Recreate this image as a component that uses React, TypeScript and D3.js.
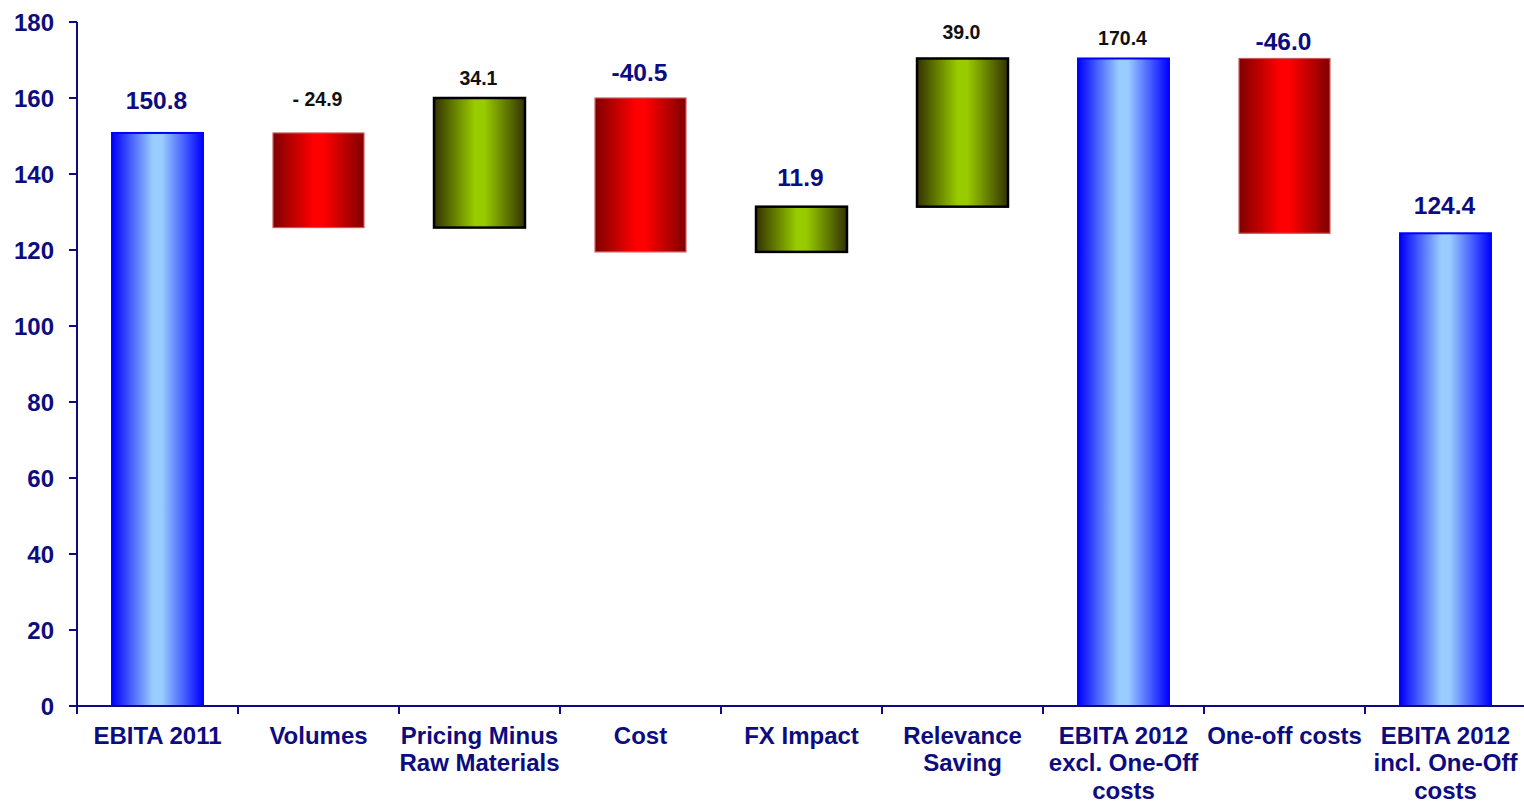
import React from "react";
import * as d3 from "d3";

// Waterfall steps: kind "total" bars start at zero, "delta" bars float from the running sum
const categories: string[][] = [
  ["EBITA 2011"],
  ["Volumes"],
  ["Pricing Minus", "Raw Materials"],
  ["Cost"],
  ["FX Impact"],
  ["Relevance", "Saving"],
  ["EBITA 2012", "excl. One-Off", "costs"],
  ["One-off costs"],
  ["EBITA 2012", "incl. One-Off", "costs"],
];
const values: number[] = [150.8, -24.9, 34.1, -40.5, 11.9, 39.0, 170.4, -46.0, 124.4];
const kinds: ("total" | "delta")[] = ["total", "delta", "delta", "delta", "delta", "delta", "total", "delta", "total"];
const valueLabels: string[] = ["150.8", "- 24.9", "34.1", "-40.5", "11.9", "39.0", "170.4", "-46.0", "124.4"];
const yTicks: number[] = [0, 20, 40, 60, 80, 100, 120, 140, 160, 180];

// Label presentation: "big" navy or "small" black, and its lift above the bar top
const labelStyle: ("big" | "small")[] = ["big", "small", "small", "big", "big", "small", "small", "big", "big"];
const labelLift: number[] = [32, 34, 20, 26, 29, 26, 20, 17, 28];

const W = 1524;
const H = 802;
const NAVY = "#0c0c80";
const FONT = "'Liberation Sans', Arial, sans-serif";

export default function App() {
  const left = 77;
  const right = 1526;
  const y = d3.scaleLinear().domain([0, 180]).range([706, 22]);
  const keys = categories.map((_, i) => String(i));
  const x = d3
    .scaleBand<string>()
    .domain(keys)
    .range([left, right])
    .paddingInner(0.435)
    .paddingOuter(0.2175);
  const step = x.step();

  // running totals
  let running = 0;
  const bars = values.map((v, i) => {
    let lo: number, hi: number;
    if (kinds[i] === "total") {
      lo = 0;
      hi = v;
      running = v;
    } else {
      const start = running;
      running = start + v;
      lo = Math.min(start, running);
      hi = Math.max(start, running);
    }
    const color = kinds[i] === "total" ? "blue" : v < 0 ? "red" : "green";
    return { i, lo, hi, color };
  });

  const strokeFor: Record<string, { stroke: string; w: number }> = {
    blue: { stroke: "#0000ff", w: 2 },
    red: { stroke: "#c85a5a", w: 1.2 },
    green: { stroke: "#000000", w: 2.5 },
  };

  return (
    <svg
      width={W}
      height={H}
      style={{ position: "absolute", left: 0, top: 0, background: "#fff" }}
      fontFamily={FONT}
    >
      <defs>
        <linearGradient id="gBlue" x1="0" x2="1" y1="0" y2="0">
          <stop offset="0" stopColor="#0000ff" />
          <stop offset="0.45" stopColor="#99ccff" />
          <stop offset="0.55" stopColor="#99ccff" />
          <stop offset="1" stopColor="#0000ff" />
        </linearGradient>
        <linearGradient id="gRed" x1="0" x2="1" y1="0" y2="0">
          <stop offset="0" stopColor="#800000" />
          <stop offset="0.45" stopColor="#ff0000" />
          <stop offset="0.55" stopColor="#ff0000" />
          <stop offset="1" stopColor="#800000" />
        </linearGradient>
        <linearGradient id="gGreen" x1="0" x2="1" y1="0" y2="0">
          <stop offset="0" stopColor="#333300" />
          <stop offset="0.45" stopColor="#99cc00" />
          <stop offset="0.55" stopColor="#99cc00" />
          <stop offset="1" stopColor="#333300" />
        </linearGradient>
      </defs>

      {/* bars */}
      {bars.map((b) => {
        const s = strokeFor[b.color];
        const fill = b.color === "blue" ? "url(#gBlue)" : b.color === "red" ? "url(#gRed)" : "url(#gGreen)";
        return (
          <rect
            key={b.i}
            x={x(String(b.i))!}
            y={y(b.hi)}
            width={x.bandwidth()}
            height={y(b.lo) - y(b.hi)}
            fill={fill}
            stroke={s.stroke}
            strokeWidth={s.w}
          />
        );
      })}

      {/* value labels */}
      {bars.map((b) => {
        const big = labelStyle[b.i] === "big";
        return (
          <text
            key={"v" + b.i}
            x={x(String(b.i))! + x.bandwidth() / 2 - 1}
            y={y(b.hi) - labelLift[b.i]}
            textAnchor="middle"
            dominantBaseline="central"
            fontWeight="bold"
            fontSize={big ? 24.5 : 19.5}
            fill={big ? NAVY : "#111"}
          >
            {valueLabels[b.i]}
          </text>
        );
      })}

      {/* y axis */}
      <line x1={left} x2={left} y1={y(180)} y2={y(0)} stroke={NAVY} strokeWidth={2} />
      {yTicks.map((t) => (
        <g key={"y" + t}>
          <line x1={left - 8} x2={left} y1={y(t)} y2={y(t)} stroke={NAVY} strokeWidth={2} />
          <text
            x={54}
            y={y(t)}
            textAnchor="end"
            dominantBaseline="central"
            fontWeight="bold"
            fontSize={24}
            fill={NAVY}
          >
            {t}
          </text>
        </g>
      ))}

      {/* x axis */}
      <line x1={left} x2={right} y1={y(0)} y2={y(0)} stroke={NAVY} strokeWidth={2} />
      {d3.range(categories.length + 1).map((k) => (
        <line
          key={"xt" + k}
          x1={left + k * step}
          x2={left + k * step}
          y1={y(0)}
          y2={y(0) + 8}
          stroke={NAVY}
          strokeWidth={2}
        />
      ))}
      {categories.map((lines, i) => (
        <text
          key={"c" + i}
          textAnchor="middle"
          fontWeight="bold"
          fontSize={24}
          fill={NAVY}
        >
          {lines.map((ln, j) => (
            <tspan
              key={j}
              x={x(String(i))! + x.bandwidth() / 2}
              y={735 + j * 27.5}
              dominantBaseline="central"
            >
              {ln}
            </tspan>
          ))}
        </text>
      ))}
    </svg>
  );
}
